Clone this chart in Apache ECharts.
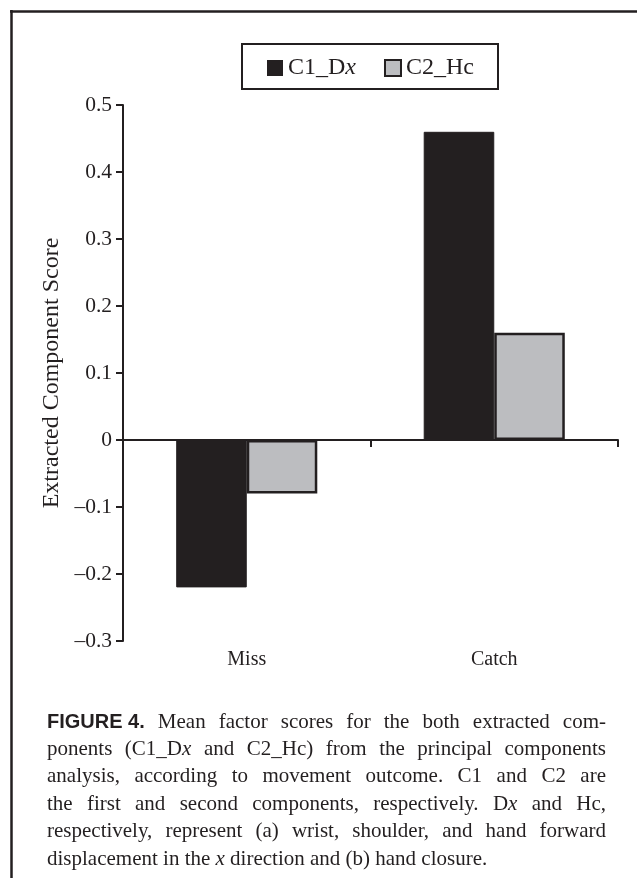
<!DOCTYPE html>
<html>
<head>
<meta charset="utf-8">
<script src="https://cdn.jsdelivr.net/npm/echarts@6/dist/echarts.min.js"></script>
<style>
html,body{margin:0;padding:0;background:#fff;}
#chart{width:637px;height:878px;}
</style>
</head>
<body>
<div id="chart"></div>
<script>
// ---- data ----
const categories = ['Miss', 'Catch'];
const seriesNames = ['C1_Dx', 'C2_Hc'];
const c1Values = [-0.22, 0.46];
const c2Values = [-0.08, 0.16];
const yTicks = { min: -0.3, max: 0.5, interval: 0.1 };
const yAxisTitle = 'Extracted Component Score';
const captionLines = [
  '#FIGURE 4.# Mean factor scores for the both extracted com-',
  'ponents (C1_D*x* and C2_Hc) from the principal components',
  'analysis, according to movement outcome. C1 and C2 are',
  'the first and second components, respectively. D*x* and Hc,',
  'respectively, represent (a) wrist, shoulder, and hand forward',
  'displacement in the *x* direction and (b) hand closure.'
];

// ---- style ----
const INK = '#231f20';
const GRAY = '#bcbdc0';
const SERIF = '"Liberation Serif", "Times New Roman", serif';
const SANS = '"Liberation Sans", Arial, sans-serif';

const chart = echarts.init(document.getElementById('chart'), null, { renderer: 'canvas' });

// caption layout (justified)
const capFontSize = 21;
const capBoldSize = 20;
const capLeft = 47, capRight = 606, capTop = 722, capStep = 27.4;
const mctx = document.createElement('canvas').getContext('2d');
function runFont(kind) {
  if (kind === 'b') return 'bold ' + capBoldSize + 'px ' + SANS;
  if (kind === 'i') return 'italic ' + capFontSize + 'px ' + SERIF;
  return capFontSize + 'px ' + SERIF;
}
function parseRuns(w) {
  const runs = [];
  const re = /#([^#]*)#|\*([^*]*)\*|([^#*]+)/g;
  let m;
  while ((m = re.exec(w))) {
    if (m[1] !== undefined) runs.push({ t: m[1], k: 'b' });
    else if (m[2] !== undefined) runs.push({ t: m[2], k: 'i' });
    else runs.push({ t: m[3], k: 'n' });
  }
  runs.forEach(r => { mctx.font = runFont(r.k); r.w = mctx.measureText(r.t).width; });
  return runs;
}
function splitWords(line) {
  const out = [];
  let cur = '', inBold = false;
  for (const ch of line) {
    if (ch === '#') inBold = !inBold;
    if (ch === ' ' && !inBold) { out.push(cur); cur = ''; } else cur += ch;
  }
  out.push(cur);
  return out;
}
const graphics = [];
captionLines.forEach((line, li) => {
  const words = splitWords(line).map(parseRuns);
  const widths = words.map(rs => rs.reduce((s, r) => s + r.w, 0));
  const total = widths.reduce((a, b) => a + b, 0);
  const last = li === captionLines.length - 1;
  mctx.font = runFont('n');
  const space = last ? mctx.measureText(' ').width : (capRight - capLeft - total) / (words.length - 1);
  let x = capLeft;
  const y = capTop + li * capStep;
  words.forEach((rs) => {
    rs.forEach(r => {
      graphics.push({
        type: 'text', x: x, y: y, silent: true,
        style: { text: r.t, font: runFont(r.k), fill: INK, verticalAlign: 'middle', align: 'left' }
      });
      x += r.w;
    });
    x += space;
  });
});
// frame lines (top and left)
graphics.push({ type: 'line', silent: true, shape: { x1: 10, y1: 11.5, x2: 637, y2: 11.5 }, style: { stroke: INK, lineWidth: 2.5 } });
graphics.push({ type: 'line', silent: true, shape: { x1: 11.5, y1: 10, x2: 11.5, y2: 878 }, style: { stroke: INK, lineWidth: 2.5 } });
// legend box
graphics.push({ type: 'rect', silent: true, shape: { x: 242, y: 44, width: 256, height: 45 }, style: { fill: 'none', stroke: INK, lineWidth: 2 } });

const option = {
  animation: false,
  backgroundColor: '#fff',
  grid: { left: 123, right: 19, top: 105, bottom: 237, containLabel: false },
  legend: {
    left: 262, top: 51,
    icon: 'rect',
    itemWidth: 16, itemHeight: 16, itemGap: 28,
    selectedMode: false,
    textStyle: {
      fontFamily: SERIF, fontSize: 24, color: INK,
      rich: { i: { fontFamily: SERIF, fontSize: 24, fontStyle: 'italic', color: INK } }
    },
    formatter: n => n === 'C1_Dx' ? 'C1_D{i|x}' : n,
    data: [
      { name: seriesNames[0], itemStyle: { color: INK, borderColor: INK, borderWidth: 0 } },
      { name: seriesNames[1], itemStyle: { color: GRAY, borderColor: INK, borderWidth: 2 } }
    ]
  },
  xAxis: {
    type: 'category',
    data: categories,
    axisLine: { onZero: true, lineStyle: { color: INK, width: 2 } },
    axisTick: { show: true, length: 7, lineStyle: { color: INK, width: 2 } },
    axisLabel: { margin: 9, fontFamily: SERIF, fontSize: 20, color: INK },
    splitLine: { show: false }
  },
  yAxis: {
    type: 'value',
    min: yTicks.min, max: yTicks.max, interval: yTicks.interval,
    name: yAxisTitle,
    nameLocation: 'middle',
    nameRotate: 90,
    nameGap: 58,
    nameTextStyle: { fontFamily: SERIF, fontSize: 24, color: INK },
    axisLine: { show: true, lineStyle: { color: INK, width: 2 } },
    axisTick: { show: true, length: 7, lineStyle: { color: INK, width: 2 } },
    axisLabel: {
      margin: 11, fontFamily: SERIF, fontSize: 21.5, color: INK,
      formatter: v => {
        const r = Math.round(v * 10) / 10;
        if (r === 0) return '0';
        return (r < 0 ? '\u2013' : '') + Math.abs(r).toFixed(1);
      }
    },
    splitLine: { show: false }
  },
  series: [
    {
      name: seriesNames[0], type: 'bar', data: c1Values,
      barGap: '0%', barCategoryGap: '43%',
      itemStyle: { color: INK, borderColor: INK, borderWidth: 1 }
    },
    {
      name: seriesNames[1], type: 'bar', data: c2Values,
      barGap: '0%', barCategoryGap: '43%',
      itemStyle: { color: GRAY, borderColor: INK, borderWidth: 2.5 }
    }
  ],
  graphic: graphics
};
chart.setOption(option);
</script>
</body>
</html>
